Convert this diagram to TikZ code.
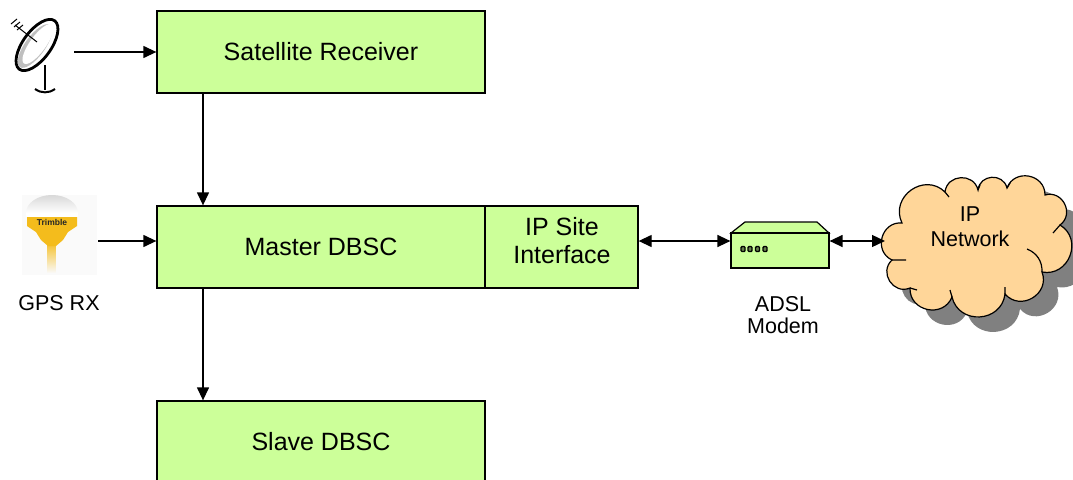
\documentclass[tikz,border=0pt]{standalone}
\usepackage{fontspec}
\setmainfont{Liberation Sans}
\usetikzlibrary{positioning,arrows.meta}
\definecolor{boxgreen}{HTML}{CCFF99}
\definecolor{cloudtan}{HTML}{FFD699}
\definecolor{gpsyellow}{HTML}{F4BC1C}
\newcommand{\cloudline}{(902,223) to (945,192) to (978,190) to (1007,188) to (1045,195)
	to (1060,225) to (1042,272) to (1005,294) to (952,297) to (910,288) to (892,260) to (902,223) -- cycle}
\tikzset{
	blockbox/.style={draw=black,line width=1.3pt,fill=boxgreen,minimum height=82pt,inner sep=0pt,font=\fontsize{25}{28}\selectfont,align=center},
	caption/.style={font=\fontsize{21.5}{22}\selectfont,align=center,inner sep=0pt},
	cloudedge/.style={every to/.style={bend left=80,looseness=1.4}},
	link/.style={line width=1.3pt,-{Triangle[length=13pt,width=12pt]}},
	duplex/.style={line width=1.3pt,{Triangle[length=13pt,width=12pt]}-{Triangle[length=13pt,width=12pt]}}
}
\begin{document}
\begin{tikzpicture}[x=1pt,y=-1pt]
\clip (0,0) rectangle (1073,479);
% blocks
\node[blockbox,minimum width=328pt] (sat) at (321,52) {Satellite Receiver};
\node[blockbox,minimum width=328pt] (master) at (321,247) {Master DBSC};
\node[blockbox,minimum width=153pt] (ipsite) at (561.5,247) {};
\node[font=\fontsize{25}{28}\selectfont,align=center,inner sep=0pt] (iptext) at (562,241) {IP Site\\Interface};
\node[blockbox,minimum width=328pt] (slave) at (321,442) {Slave DBSC};
% dish
\draw[line width=2.6pt] (45,65)--(45,90);
\draw[line width=2pt] (35,89) to[bend right=35] (55,89);
\draw[line width=2.8pt,fill=white,rotate around={54:(37,45)}] (37,45) ellipse (30 and 14);
\fill[black!25,rotate around={54:(35,46)}] (35,46) ellipse (26 and 10);
\fill[white,rotate around={54:(38,44)}] (38,44) ellipse (24 and 8);
\draw[line width=1pt] (37,42)--(15,25);
\draw[line width=1pt] (11,24)--(17,19) (14,27)--(20,22) (17,30)--(23,25);
\coordinate (dishout) at (74,52);
% gps antenna
\fill[black!2] (22,195) rectangle (97,275);
\shade[top color=gpsyellow!90,bottom color=black!2] (47.5,244) rectangle (55.5,273);
\fill[gpsyellow] (27,217)--(77,217)--(77,226)--(68,232)--(63,240)--(56,246)--(48,246)--(41,240)--(36,232)--(27,226)--cycle;
\shade[top color=black!15,bottom color=white] (26,213) arc[start angle=180,end angle=360,x radius=26,y radius=18]--cycle;
\fill[white] (26,213) rectangle (78,217);
\node[font=\fontsize{8.5}{9}\selectfont\bfseries,text=black!85,inner sep=0pt] (trimble) at (52,222) {Trimble};
\node[caption] (gpslabel) at (59,303) {GPS RX};
\coordinate (gpsout) at (98,241);
% modem
\draw[line width=1.2pt,fill=boxgreen] (731,233)--(745,222)--(817,222)--(829,233)--cycle;
\node[draw=black,line width=1.2pt,fill=boxgreen,minimum width=98pt,minimum height=35pt,inner sep=0pt] (modem) at (780,250.5) {};
\foreach \x in {743,750,757.5,765}
	\draw[line width=1.4pt,black,fill=boxgreen!50!black,rounded corners=1pt] (\x-2,246.5) rectangle (\x+2,251.5);
\node[caption] (modemlabel) at (783,315) {ADSL\\Modem};
% cloud
\fill[black!50,cloudedge,shift={(15,15)}] \cloudline;
\draw[line width=1.2pt,fill=cloudtan,cloudedge] \cloudline;
\draw[line width=1.2pt] (945,192)--(949,197) (978,190)--(980,185) (1007,188)--(1010,183)
	(1060,225)--(1053,233) (1005,294)--(1005,287) (952,297)--(950,290)
	(910,288)--(917,290) (892,260)--(906,260);
\draw[line width=1.2pt] (1027,249) to[bend left=35] (1042,272);
\node[font=\fontsize{21.5}{25}\selectfont,align=center,inner sep=0pt] (cloudlabel) at (970,227) {IP\\Network};
\coordinate (cloudin) at (885,241);
% connectors
\draw[link] (dishout)--(dishout-|sat.west);
\draw[link] (gpsout)--(gpsout-|master.west);
\draw[link] ([xshift=-118pt]sat.south)--([xshift=-118pt]master.north);
\draw[link] ([xshift=-118pt]master.south)--([xshift=-118pt]slave.north);
\draw[duplex] ([yshift=6pt]ipsite.east)--([yshift=9.5pt]modem.west);
\draw[duplex] ([yshift=9.5pt]modem.east)--(cloudin);
\end{tikzpicture}
\end{document}
